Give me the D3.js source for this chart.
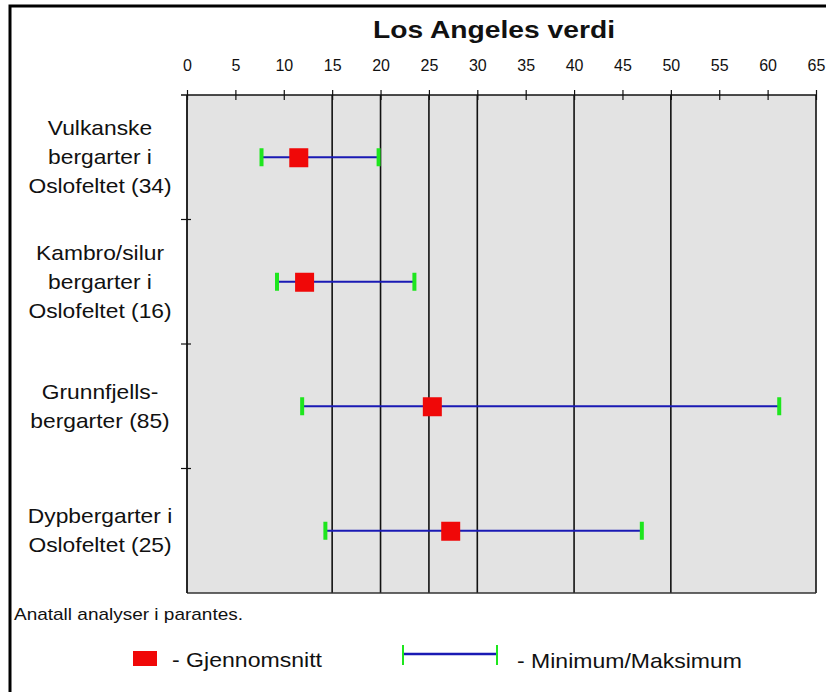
<!DOCTYPE html>
<html>
<head>
<meta charset="utf-8">
<script src="https://cdn.jsdelivr.net/npm/d3@7"></script>
<style>
  body { margin: 0; background: #fff; }
  text { font-family: "Liberation Sans", Arial, sans-serif; fill: #111; }
</style>
</head>
<body>
<div id="chart"></div>
<script>
// categories (lines of each label) and values
var categories = ["vulk", "kambro", "grunn", "dyp"];
var labelLines = [
    ["Vulkanske", "bergarter i", "Oslofeltet (34)"],
    ["Kambro/silur", "bergarter i", "Oslofeltet (16)"],
    ["Grunnfjells-", "bergarter (85)"],
    ["Dypbergarter i", "Oslofeltet (25)"]
];
var minValues = [7.7, 9.3, 11.9, 14.3];
var maxValues = [19.8, 23.5, 61.2, 47.0];
var meanValues = [11.5, 12.1, 25.3, 27.2];
var tickValues = [0, 5, 10, 15, 20, 25, 30, 35, 40, 45, 50, 55, 60, 65];
var gridValues = [15, 20, 25, 30, 40, 50, 65];

var width = 826, height = 692;
var svg = d3.select("#chart").append("svg")
    .attr("width", width)
    .attr("height", height);

var x = d3.scaleLinear().domain([0, 65]).range([187, 816]);
var y = d3.scaleBand().domain(categories).range([95, 593]);

// outer frame
svg.append("rect")
    .attr("x", 10).attr("y", 6)
    .attr("width", 830).attr("height", 700)
    .attr("fill", "none")
    .attr("stroke", "#000")
    .attr("stroke-width", 3);

// plot background
svg.append("rect")
    .attr("x", x(0)).attr("y", y.range()[0])
    .attr("width", x(65) - x(0))
    .attr("height", y.range()[1] - y.range()[0])
    .attr("fill", "#e3e3e3");

// gridlines
svg.selectAll(".grid")
    .data(gridValues)
    .enter().append("line")
    .attr("x1", function (d) { return x(d); })
    .attr("x2", function (d) { return x(d); })
    .attr("y1", y.range()[0])
    .attr("y2", y.range()[1])
    .attr("stroke", "#111")
    .attr("stroke-width", 1.6);

// bottom edge
svg.append("line")
    .attr("x1", x(0)).attr("x2", x(65))
    .attr("y1", y.range()[1]).attr("y2", y.range()[1])
    .attr("stroke", "#333").attr("stroke-width", 1.5);

// top axis
var axisX = svg.append("g")
    .attr("transform", "translate(0," + y.range()[0] + ")")
    .call(d3.axisTop(x).tickValues(tickValues).tickSize(5).tickSizeOuter(0).tickPadding(19));

axisX.select(".domain")
    .attr("d", "M" + (x(0) - 6) + ",0H" + x(65))
    .attr("stroke", "#111").attr("stroke-width", 1.5);
axisX.selectAll(".tick line")
    .attr("y1", 5).attr("y2", -5)
    .attr("stroke", "#111").attr("stroke-width", 1.2);
axisX.selectAll("text")
    .attr("font-size", "16px")
    .attr("font-family", "Liberation Sans, Arial, sans-serif")
    .style("fill", "#111");

// left axis
svg.append("line")
    .attr("x1", x(0)).attr("x2", x(0))
    .attr("y1", y.range()[0]).attr("y2", y.range()[1])
    .attr("stroke", "#111").attr("stroke-width", 1.8);

svg.selectAll(".ytick")
    .data(categories.slice(1))
    .enter().append("line")
    .attr("x1", x(0) - 6).attr("x2", x(0) + 4)
    .attr("y1", function (d) { return y(d); })
    .attr("y2", function (d) { return y(d); })
    .attr("stroke", "#111").attr("stroke-width", 1.2);

// category labels (slightly wide lettering, as in the original)
var lineH = 29;
svg.selectAll(".catlabel")
    .data(categories)
    .enter().append("text")
    .attr("text-anchor", "middle")
    .attr("font-size", "20px")
    .attr("transform", "translate(100,0) scale(1.14,1)")
    .each(function (d, i) {
        var lines = labelLines[i];
        var cy = y(d) + y.bandwidth() / 2;
        var y0 = cy - (lines.length - 1) * lineH / 2 + 7;
        d3.select(this).selectAll("tspan")
            .data(lines)
            .enter().append("tspan")
            .attr("x", 0)
            .attr("y", function (l, j) { return y0 + j * lineH; })
            .text(function (l) { return l; });
    });

// range bars
var bars = svg.selectAll(".bar")
    .data(categories)
    .enter().append("g")
    .attr("transform", function (d) { return "translate(0," + (y(d) + y.bandwidth() / 2) + ")"; });

bars.append("line")
    .attr("x1", function (d, i) { return x(minValues[i]); })
    .attr("x2", function (d, i) { return x(maxValues[i]); })
    .attr("stroke", "#1a1ab4").attr("stroke-width", 2);

bars.selectAll(".cap")
    .data(function (d, i) { return [minValues[i], maxValues[i]]; })
    .enter().append("rect")
    .attr("x", function (v) { return x(v) - 2; })
    .attr("y", -9)
    .attr("width", 4).attr("height", 18)
    .attr("fill", "#1ee61e");

bars.append("rect")
    .attr("x", function (d, i) { return x(meanValues[i]) - 9; })
    .attr("y", -9)
    .attr("width", 19).attr("height", 19)
    .attr("fill", "#f00808");

// title
svg.append("text")
    .attr("x", 373).attr("y", 38)
    .attr("font-size", "24px")
    .attr("font-weight", "bold")
    .attr("textLength", 242)
    .attr("lengthAdjust", "spacingAndGlyphs")
    .text("Los Angeles verdi");

// footnote
svg.append("text")
    .attr("x", 14).attr("y", 620)
    .attr("font-size", "17px")
    .attr("textLength", 229)
    .attr("lengthAdjust", "spacingAndGlyphs")
    .text("Anatall analyser i parantes.");

// legend
var legend = svg.append("g");
legend.append("rect")
    .attr("x", 133).attr("y", 651)
    .attr("width", 24).attr("height", 15)
    .attr("fill", "#f00808");
legend.append("text")
    .attr("x", 172).attr("y", 667)
    .attr("font-size", "21px")
    .attr("textLength", 150)
    .attr("lengthAdjust", "spacingAndGlyphs")
    .text("- Gjennomsnitt");

legend.append("line")
    .attr("x1", 403).attr("x2", 497)
    .attr("y1", 654).attr("y2", 654)
    .attr("stroke", "#1a1ab4").attr("stroke-width", 2.5);
legend.selectAll(".lcap")
    .data([403, 497])
    .enter().append("rect")
    .attr("x", function (d) { return d - 1; })
    .attr("y", 645)
    .attr("width", 2).attr("height", 20)
    .attr("fill", "#1ee61e");
legend.append("text")
    .attr("x", 517).attr("y", 668)
    .attr("font-size", "21px")
    .attr("textLength", 225)
    .attr("lengthAdjust", "spacingAndGlyphs")
    .text("- Minimum/Maksimum");
</script>
</body>
</html>
